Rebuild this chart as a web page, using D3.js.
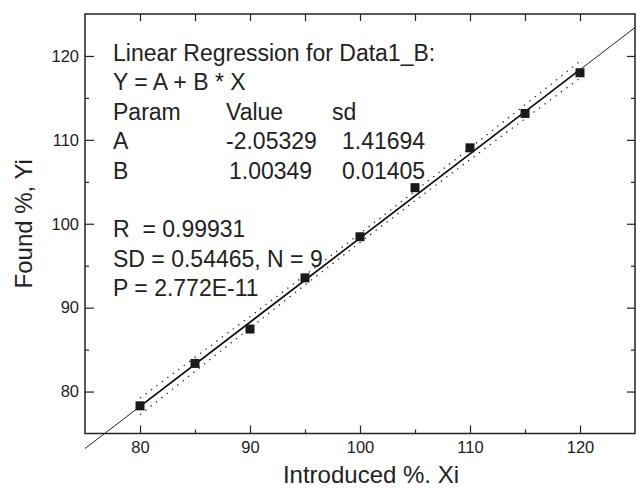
<!DOCTYPE html>
<html>
<head>
<meta charset="utf-8">
<script src="https://cdn.jsdelivr.net/npm/d3@7"></script>
<style>
body{margin:0;background:#fff;}
svg{display:block;}
text{font-family:'Liberation Sans',Arial,Helvetica,sans-serif;fill:#222;}
</style>
</head>
<body>
<svg></svg>
<script>
const width = 636;
const height = 490;
const plotLeft = 85;
const plotRight = 635;
const plotTop = 14;
const plotBottom = 433.5;
const majorTick = 8;
const minorTick = 4;
const textX = 113;
const textY = 61;
const lineGap = 29.4;

// data
var introduced = [80, 85, 90, 95, 100, 105, 110, 115, 120];
var found = [78.3, 83.35, 87.45, 93.55, 98.45, 104.3, 109.05, 113.15, 118.0];
var bandHalf = [1.0, 0.83, 0.69, 0.58, 0.54, 0.58, 0.69, 0.83, 1.0];
var fitA = -2.05329;
var fitB = 1.00349;
var xDomain = [75, 125];
var yDomain = [75, 125];
var majorTicks = [80, 90, 100, 110, 120];
var minorTicks = [85, 95, 105, 115];
var reportRows = [
	['Linear Regression for Data1_B:'],
	['Y = A + B * X'],
	['Param', 'Value', 'sd'],
	['A', '-2.05329', '1.41694'],
	['B', '1.00349', '0.01405'],
	[''],
	['R  = 0.99931'],
	['SD = 0.54465, N = 9'],
	['P = 2.772E-11']
];
var columnX = [0, 113, 229];
var columnShift = {'Value': 0, '-2.05329': 0, '1.00349': 3, 'sd': -10};

var svg = d3.select('svg').attr('width', width).attr('height', height);

var x = d3.scaleLinear().domain(xDomain).range([plotLeft, plotRight]);
var y = d3.scaleLinear().domain(yDomain).range([plotBottom, plotTop]);

function fit(v){
	return fitA + fitB*v;
}

function drawAxes(){
	// bottom
	svg.append('g').attr('transform', 'translate(0,'+plotBottom+')')
	.call(d3.axisBottom(x).tickValues(majorTicks).tickSize(-majorTick).tickPadding(8))
	.call(g => g.select('.domain').remove());
	svg.append('g').attr('transform', 'translate(0,'+plotBottom+')')
	.call(d3.axisBottom(x).tickValues(minorTicks).tickSize(-minorTick).tickFormat(''))
	.call(g => g.select('.domain').remove());
	// top
	svg.append('g').attr('transform', 'translate(0,'+plotTop+')')
	.call(d3.axisTop(x).tickValues(majorTicks.concat(minorTicks)).tickSize(-7).tickFormat(''))
	.call(g => g.select('.domain').remove());
	// left
	svg.append('g').attr('transform', 'translate('+plotLeft+',0)')
	.call(d3.axisLeft(y).tickValues(majorTicks).tickSize(-majorTick-1).tickPadding(6))
	.call(g => g.select('.domain').remove());
	svg.append('g').attr('transform', 'translate('+plotLeft+',0)')
	.call(d3.axisLeft(y).tickValues(minorTicks).tickSize(-minorTick).tickFormat(''))
	.call(g => g.select('.domain').remove());
	// right
	svg.append('g').attr('transform', 'translate('+plotRight+',0)')
	.call(d3.axisRight(y).tickValues(majorTicks).tickSize(-majorTick).tickFormat(''))
	.call(g => g.select('.domain').remove());
	svg.append('g').attr('transform', 'translate('+plotRight+',0)')
	.call(d3.axisRight(y).tickValues(minorTicks).tickSize(-minorTick).tickFormat(''))
	.call(g => g.select('.domain').remove());

	svg.selectAll('.tick line').style('stroke', '#222').style('stroke-width', 1.2);
	svg.selectAll('.tick text').style('font-size', '16.5px').style('fill', '#222')
	.style('font-family', "'Liberation Sans',Arial,sans-serif");

	svg.append('rect')
	.attr('x', plotLeft).attr('y', plotTop)
	.attr('width', plotRight-plotLeft).attr('height', plotBottom-plotTop)
	.style('fill', 'none').style('stroke', '#222').style('stroke-width', 1.5);

	svg.append('text')
	.attr('x', 371).attr('y', 483)
	.attr('text-anchor', 'middle')
	.style('font-size', '24px')
	.text('Introduced %. Xi');

	svg.append('text')
	.attr('transform', 'translate(32,'+((plotTop+plotBottom)/2)+') rotate(-90)')
	.attr('text-anchor', 'middle')
	.style('font-size', '24px')
	.text('Found %, Yi');
}

function drawFit(){
	// whole line across the frame
	svg.append('line')
	.attr('x1', x(xDomain[0])).attr('y1', y(fit(xDomain[0])))
	.attr('x2', x(xDomain[1])).attr('y2', y(fit(xDomain[1])))
	.style('stroke', '#222').style('stroke-width', 1);

	var first = introduced[0], last = introduced[introduced.length-1];
	svg.append('line')
	.attr('x1', x(first)).attr('y1', y(fit(first)))
	.attr('x2', x(last)).attr('y2', y(fit(last)))
	.style('stroke', '#111').style('stroke-width', 1.7);

	[1, -1].forEach(sign => {
		svg.append('path')
		.datum(introduced)
		.attr('d', d3.line()
			.x(d => x(d))
			.y((d, i) => y(fit(d) + sign*bandHalf[i]))
			.curve(d3.curveNatural))
		.style('fill', 'none')
		.style('stroke', '#222')
		.style('stroke-width', 1.3)
		.style('stroke-dasharray', '1.3,5.5');
	});
}

function drawPoints(){
	var size = 9;
	svg.append('g').selectAll('rect.point')
	.data(introduced)
	.enter().append('rect')
	.classed('point', true)
	.attr('x', d => x(d) - size/2)
	.attr('y', (d, i) => y(found[i]) - size/2)
	.attr('width', size).attr('height', size)
	.style('fill', '#1a1a1a');
}

function drawReport(){
	var block = svg.append('g');
	reportRows.forEach((row, r) => {
		row.forEach((cell, c) => {
			if(!cell)	return;
			block.append('text')
			.attr('x', textX + columnX[c] + (c ? (columnShift[cell]||0) : 0))
			.attr('y', textY + r*lineGap)
			.attr('xml:space', 'preserve')
			.style('white-space', 'pre')
			.style('font-size', '23px')
			.text(cell);
		});
	});
}

drawAxes();
drawFit();
drawPoints();
drawReport();
</script>
</body>
</html>
